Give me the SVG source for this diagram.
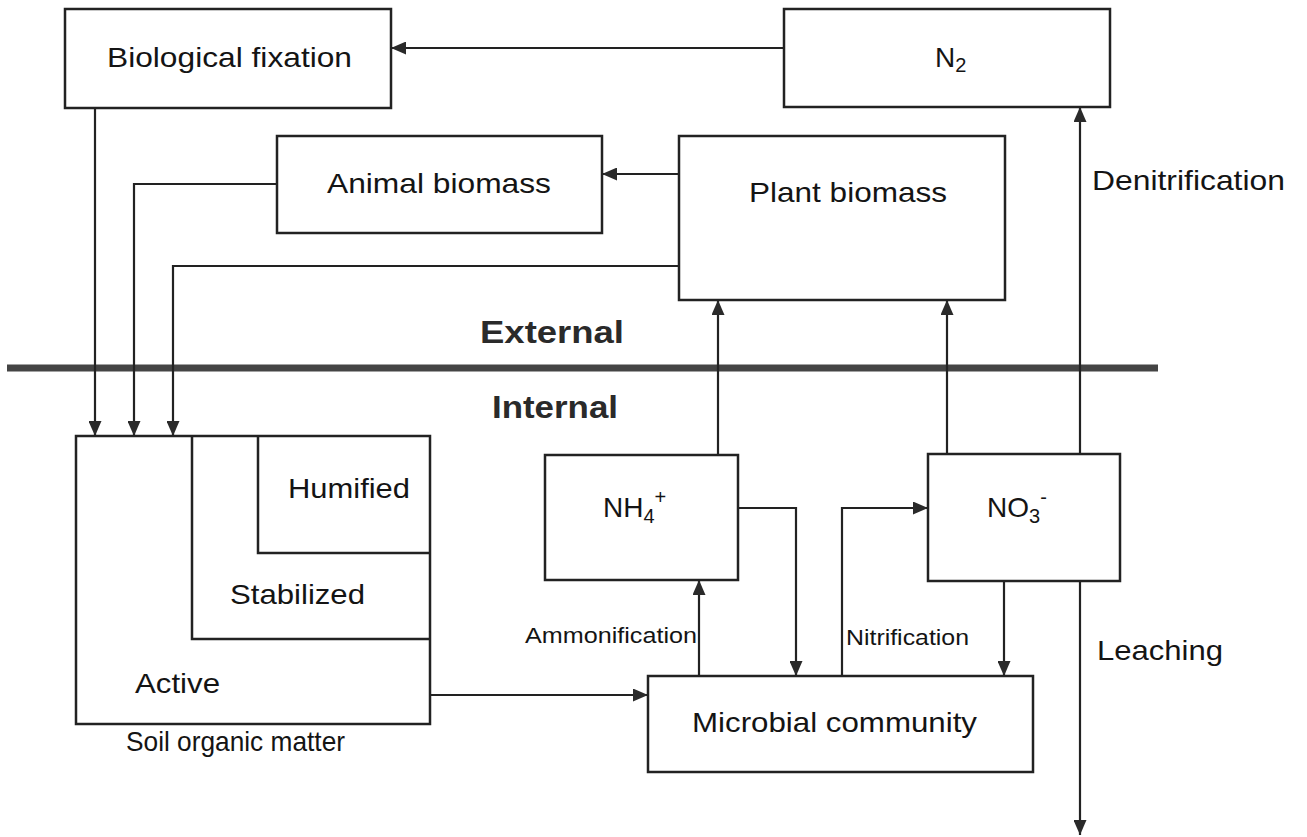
<svg xmlns="http://www.w3.org/2000/svg" width="1307" height="837" viewBox="0 0 1307 837">
<defs>
<marker id="ah" markerWidth="15" markerHeight="13" refX="15" refY="6.5" orient="auto-start-reverse" markerUnits="userSpaceOnUse">
<path d="M0,0 L15,6.5 L0,13 Z" fill="#2a2a2a"/>
</marker>
<style>
.box{fill:#fff;stroke:#222;stroke-width:2.5}
.ln{fill:none;stroke:#222;stroke-width:2.2}
.dash{fill:none;stroke:#222;stroke-width:2.5;stroke-dasharray:8 7}
.t{font-family:"Liberation Sans",Arial,sans-serif;font-size:28px;fill:#141414}
.s{font-family:"Liberation Sans",Arial,sans-serif;font-size:22px;fill:#141414}
.b{font-family:"Liberation Sans",Arial,sans-serif;font-size:31px;font-weight:bold;fill:#2a2a2a}
</style>
</defs>
<rect width="1307" height="837" fill="#fff"/>

<g id="divider">
<line x1="7" y1="368" x2="1158" y2="368" stroke="#444" stroke-width="7"/>
<text class="b" x="480" y="343" textLength="144" lengthAdjust="spacingAndGlyphs">External</text>
<text class="b" x="492" y="418" textLength="126" lengthAdjust="spacingAndGlyphs">Internal</text>
</g>

<g id="connectors">
<path class="ln" d="M784,48 L391,48" marker-end="url(#ah)"/>
<path class="ln" d="M95,108 L95,436" marker-end="url(#ah)"/>
<path class="ln" d="M277,184 L134,184 L134,436" marker-end="url(#ah)"/>
<path class="ln" d="M679,266 L173,266 L173,436" marker-end="url(#ah)"/>
<path class="ln" d="M679,174 L602,174" marker-end="url(#ah)"/>
<path class="ln" d="M718,455 L718,300" marker-end="url(#ah)"/>
<path class="ln" d="M947,454 L947,300" marker-end="url(#ah)"/>
<path class="ln" d="M1080,454 L1080,107" marker-end="url(#ah)"/>
<path class="ln" d="M1080,581 L1080,835" marker-end="url(#ah)"/>
<path class="ln" d="M1004,581 L1004,676" marker-end="url(#ah)"/>
<path class="ln" d="M842,676 L842,508 L928,508" marker-end="url(#ah)"/>
<path class="ln" d="M699,676 L699,580" marker-end="url(#ah)"/>
<path class="ln" d="M738,508 L796,508 L796,676" marker-end="url(#ah)"/>
<path class="ln" d="M430,695 L648,695" marker-end="url(#ah)"/>
<path class="dash" d="M193,493 L257,493" stroke-dashoffset="-3" marker-start="url(#ah)" marker-end="url(#ah)"/>
<path class="dash" d="M77,562 L191,562" marker-start="url(#ah)" marker-end="url(#ah)"/>
</g>

<g id="biological-fixation">
<rect class="box" x="65" y="9" width="326" height="99"/>
<text class="t" x="107" y="67" textLength="245" lengthAdjust="spacingAndGlyphs">Biological fixation</text>
</g>

<g id="n2">
<rect class="box" x="784" y="9" width="326" height="98"/>
<text class="t" x="935" y="67">N<tspan font-size="20" dy="5">2</tspan></text>
</g>

<g id="animal-biomass">
<rect class="box" x="277" y="136" width="325" height="97"/>
<text class="t" x="327" y="193" textLength="224" lengthAdjust="spacingAndGlyphs">Animal biomass</text>
</g>

<g id="plant-biomass">
<rect class="box" x="679" y="136" width="326" height="164"/>
<text class="t" x="749" y="202" textLength="198" lengthAdjust="spacingAndGlyphs">Plant biomass</text>
</g>

<text id="denitrification" class="t" x="1092" y="190" textLength="193" lengthAdjust="spacingAndGlyphs">Denitrification</text>

<g id="soil-organic-matter">
<rect class="box" x="76" y="436" width="354" height="288"/>
<path class="ln" d="M192,436 L192,639 L430,639" style="stroke-width:2.5"/>
<path class="ln" d="M258,436 L258,553 L430,553" style="stroke-width:2.5"/>
<text class="t" x="288" y="498" textLength="122" lengthAdjust="spacingAndGlyphs">Humified</text>
<text class="t" x="230" y="604" textLength="135" lengthAdjust="spacingAndGlyphs">Stabilized</text>
<text class="t" x="135" y="693" textLength="85" lengthAdjust="spacingAndGlyphs">Active</text>
<text class="t" x="126" y="751" font-size="25" textLength="219" lengthAdjust="spacingAndGlyphs">Soil organic matter</text>
</g>

<g id="nh4">
<rect class="box" x="545" y="455" width="193" height="125"/>
<text class="t" x="603" y="517">NH<tspan font-size="20" dy="6">4</tspan><tspan font-size="20" dy="-19">+</tspan></text>
</g>

<g id="no3">
<rect class="box" x="928" y="454" width="192" height="127"/>
<text class="t" x="987" y="517">NO<tspan font-size="20" dy="6">3</tspan><tspan font-size="20" dy="-19">-</tspan></text>
</g>

<g id="microbial-community">
<rect class="box" x="648" y="676" width="385" height="96"/>
<text class="t" x="692" y="732" textLength="285" lengthAdjust="spacingAndGlyphs">Microbial community</text>
</g>

<text id="ammonification" class="s" x="525" y="643" textLength="172" lengthAdjust="spacingAndGlyphs">Ammonification</text>
<text id="nitrification" class="s" x="846" y="645" textLength="123" lengthAdjust="spacingAndGlyphs">Nitrification</text>
<text id="leaching" class="t" x="1097" y="660" textLength="126" lengthAdjust="spacingAndGlyphs">Leaching</text>
</svg>
